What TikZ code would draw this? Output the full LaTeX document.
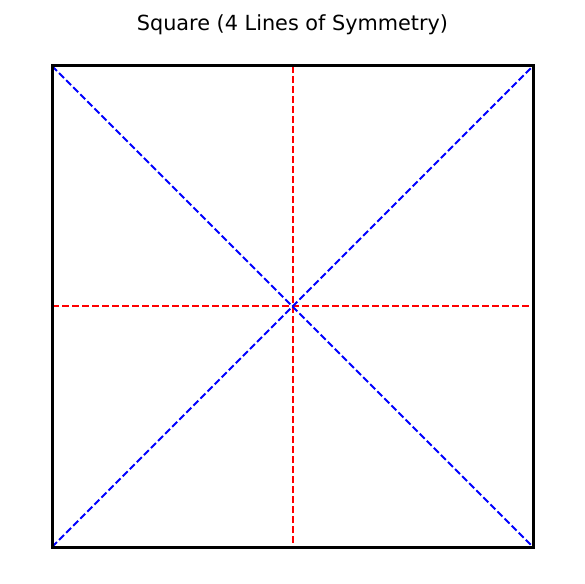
\documentclass[tikz,border=0pt]{standalone}
\usepackage{fontspec}
\setmainfont{DejaVu Sans}
\begin{document}
\begin{tikzpicture}[x=1bp,y=-1bp,
  symline/.style={line width=2bp,dash pattern=on 7bp off 3bp},
  frame/.style={line width=3bp,draw=black}]
\useasboundingbox (0,0) rectangle (585,584);
\coordinate (tl) at (52,66);
\coordinate (tr) at (533,66);
\coordinate (bl) at (52,547);
\coordinate (br) at (533,547);
\coordinate (tm) at (293,66);
\coordinate (bm) at (293,547);
\coordinate (lm) at (52,306);
\coordinate (rm) at (533,306);
\draw[symline,red] (tm) -- (bm);
\draw[symline,red] (lm) -- (rm);
\draw[symline,blue] (tl) -- (br);
\draw[symline,blue] (bl) -- (tr);
\draw[frame] (tl) rectangle (br);
\node[font=\fontsize{20.8bp}{24bp}\selectfont,anchor=base] (title) at (292.5,31) {Square (4 Lines of Symmetry)};
\end{tikzpicture}
\end{document}
